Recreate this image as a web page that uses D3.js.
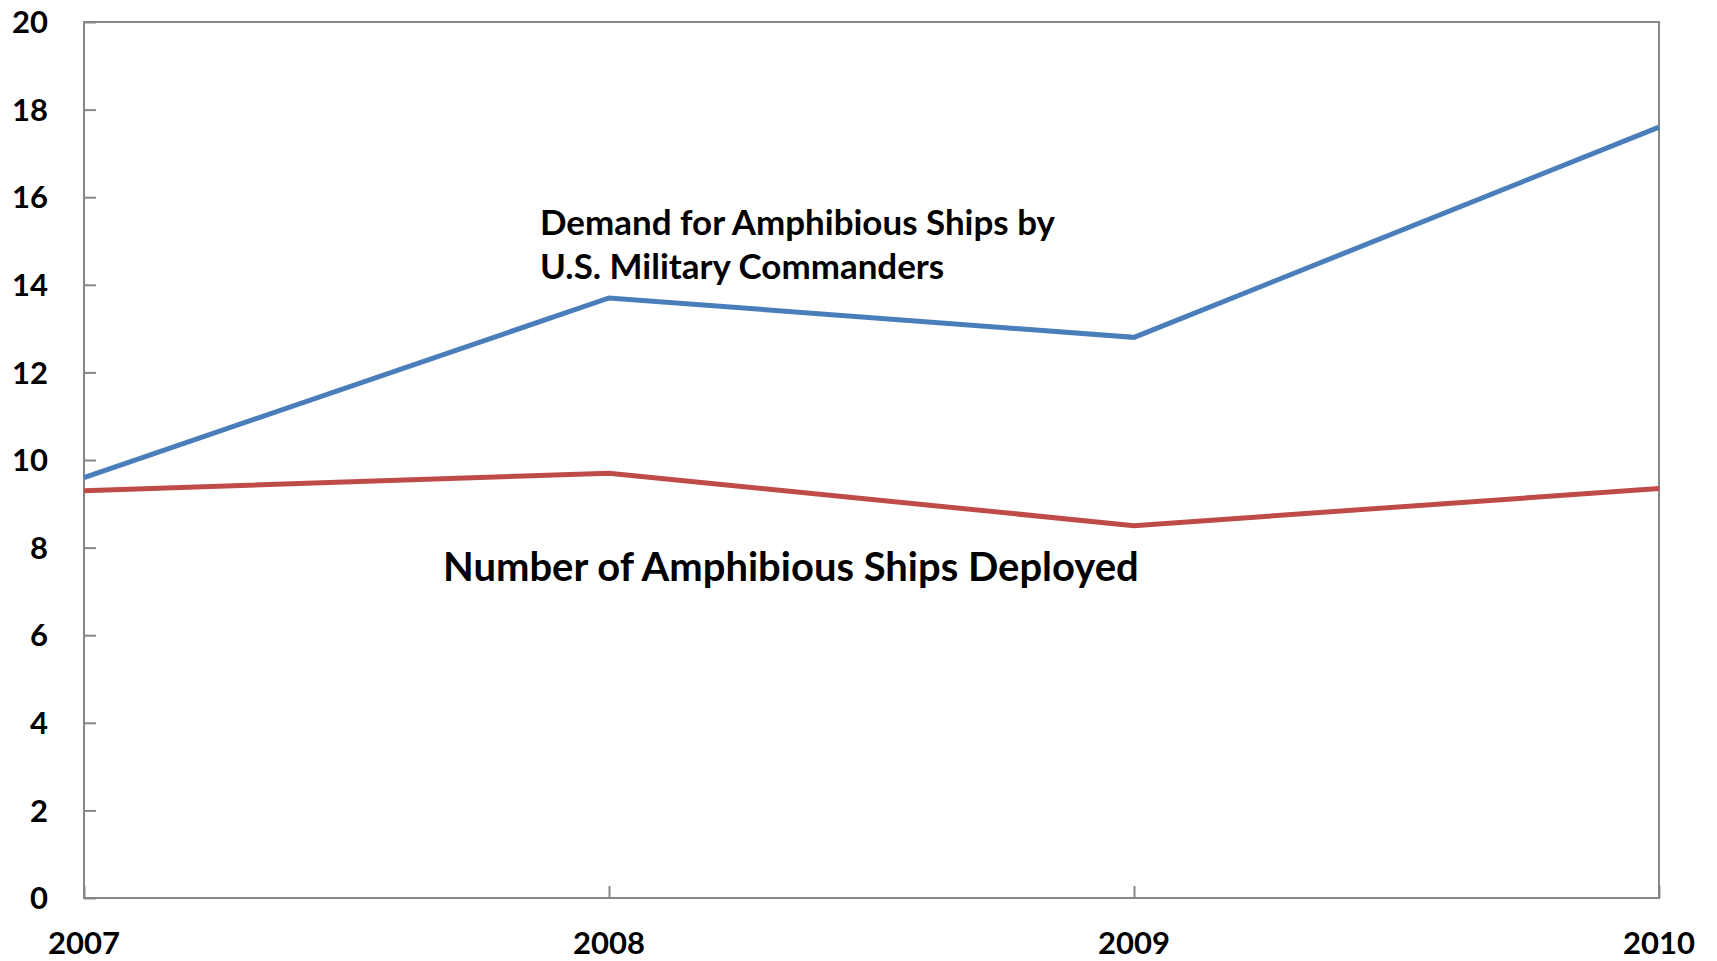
<!DOCTYPE html>
<html>
<head>
<meta charset="utf-8">
<script src="https://cdn.jsdelivr.net/npm/d3@7"></script>
<style>
  html, body { margin: 0; padding: 0; background: #fff; }
  svg { display: block; }
  text { font-family: Lato, "Open Sans", sans-serif; font-weight: 700; fill: #000; }
</style>
</head>
<body>
<svg id="chart" width="1717" height="961"></svg>
<script>
const years = [2007, 2008, 2009, 2010];
const demand = [9.6, 13.7, 12.8, 17.6];
const deployed = [9.3, 9.7, 8.5, 9.35];
const yTicks = [0, 2, 4, 6, 8, 10, 12, 14, 16, 18, 20];
const demandLabel = ["Demand for Amphibious Ships by", "U.S. Military Commanders"];
const deployedLabel = "Number of Amphibious Ships Deployed";

const svg = d3.select("#chart");
const plotL = 84, plotR = 1659, plotT = 22, plotB = 898;

const x = d3.scaleLinear().domain([2007, 2010]).range([plotL, plotR]);
const y = d3.scaleLinear().domain([0, 20]).range([plotB, plotT]);

const axisColor = "#868686";

// Plot frame
svg.append("rect")
  .attr("x", plotL).attr("y", plotT)
  .attr("width", plotR - plotL).attr("height", plotB - plotT)
  .attr("fill", "none").attr("stroke", axisColor).attr("stroke-width", 2);

// Y axis (ticks inward)
const yAxis = svg.append("g").attr("transform", `translate(${plotL},0)`)
  .call(d3.axisRight(y).tickValues(yTicks).tickSize(12).tickFormat(""));
yAxis.select(".domain").remove();
yAxis.selectAll("line").attr("stroke", axisColor).attr("stroke-width", 2);

svg.append("g").selectAll("text").data(yTicks).join("text")
  .attr("x", 48).attr("y", d => y(d))
  .attr("dy", "0.36em")
  .attr("text-anchor", "end")
  .style("font-size", "31px")
  .text(d => d);

// X axis (ticks inward)
const xAxis = svg.append("g").attr("transform", `translate(0,${plotB})`)
  .call(d3.axisTop(x).tickValues(years).tickSize(12).tickFormat(""));
xAxis.select(".domain").remove();
xAxis.selectAll("line").attr("stroke", axisColor).attr("stroke-width", 2);

svg.append("g").selectAll("text").data(years).join("text")
  .attr("x", d => x(d)).attr("y", 954)
  .attr("text-anchor", "middle")
  .style("font-size", "31px")
  .text(d => d);

// Lines
const line = d3.line().x((d, i) => x(years[i])).y(d => y(d));
svg.append("path").datum(deployed)
  .attr("d", line).attr("fill", "none")
  .attr("stroke", "#be4b48").attr("stroke-width", 5);
svg.append("path").datum(demand)
  .attr("d", line).attr("fill", "none")
  .attr("stroke", "#4a7ebb").attr("stroke-width", 5);

// Annotations
function fit(sel, target) {
  const w = sel.node().getComputedTextLength();
  const fs = parseFloat(sel.style("font-size"));
  sel.style("font-size", (fs * target / w) + "px");
}
const d1 = svg.append("text").attr("x", 540).attr("y", 235).style("font-size", "32px").text(demandLabel[0]);
fit(d1, 515);
const fsD = d1.style("font-size");
svg.append("text").attr("x", 540).attr("y", 279).style("font-size", fsD).text(demandLabel[1]);
const n1 = svg.append("text").attr("x", 443).attr("y", 581).style("font-size", "37px").text(deployedLabel);
fit(n1, 696);
</script>
</body>
</html>
